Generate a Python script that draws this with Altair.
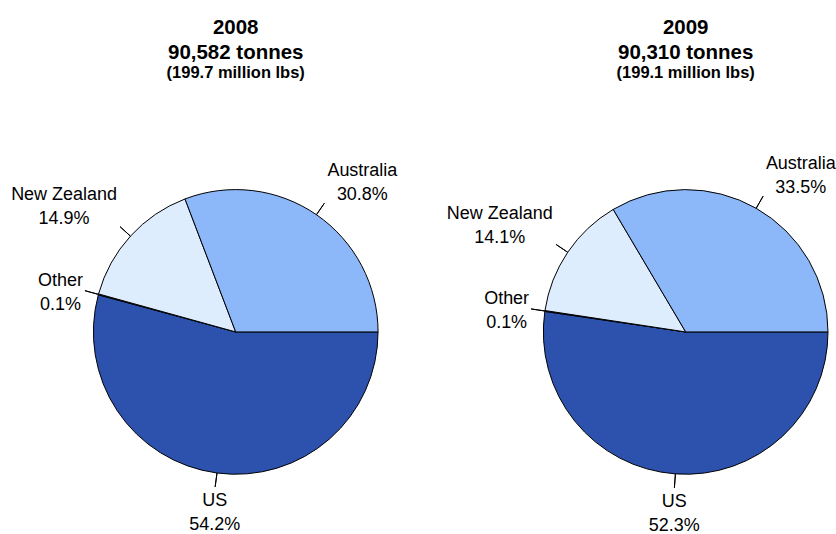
import math

import altair as alt
import pandas as pd

# Import shares by source, listed clockwise starting from 3 o'clock
regions = ["US", "Other", "New Zealand", "Australia"]
share_2008 = [54.2, 0.1, 14.9, 30.8]
share_2009 = [52.3, 0.1, 14.1, 33.5]

years = ["2008", "2009"]
tonnages = ["90,582 tonnes", "90,310 tonnes"]
pounds = ["(199.7 million lbs)", "(199.1 million lbs)"]

slice_colors = ["#2c52ae", "#1f3f8f", "#deedfe", "#8cb7f8"]

FONT = "Liberation Sans"
LABEL_SIZE = 18
LINE_H = 24
RADIUS = 142.5
PANEL_W = 240
PANEL_H = 374

theta_scale = alt.Scale(domain=[0, 100], range=[math.pi / 2, math.pi / 2 + 2 * math.pi])
color_scale = alt.Scale(domain=regions, range=slice_colors)

# screen direction of each slice's middle (Vega angles: 0 = north, clockwise)
ANG = "(PI / 2 + 2 * PI * datum.mid / 100)"
H_SIDE = f"(sin({ANG}) > 0.35 ? 1 : (sin({ANG}) < -0.35 ? -1 : 0))"
V_SIDE = f"(-cos({ANG}) < -0.35 ? -1 : (-cos({ANG}) > 0.35 ? 1 : 0))"


def em_width(field):
    # rough Helvetica/Arial advance width of a string, in em
    return (
        f"(0.556 * length({field})"
        f" - 0.278 * length(replace({field}, regexp('[^iltfrj .,]', 'g'), ''))"
        f" + 0.11 * length(replace({field}, regexp('[^A-Z]', 'g'), ''))"
        f" + 0.166 * length(replace({field}, regexp('[^mwMW]', 'g'), ''))"
        f" + 0.333 * length(replace({field}, regexp('[^%]', 'g'), '')))"
    )


def pie(shares, year, tonnage, lbs):
    df = pd.DataFrame({"region": regions, "share": shares, "order": list(range(len(regions)))})
    base = (
        alt.Chart(df)
        .transform_window(cum="sum(share)", sort=[alt.SortField("order")], frame=[None, 0])
        .transform_calculate(
            start="datum.cum - datum.share",
            mid="datum.cum - datum.share / 2",
            mid2="datum.cum - datum.share / 2 + 0.0001",
            pct="format(datum.share, '.1f') + '%'",
        )
        .transform_calculate(
            label="datum.region + '\\n' + datum.pct",
            block_w=f"{LABEL_SIZE} * max({em_width('datum.region')}, {em_width('datum.pct')})",
        )
    )

    slices = base.mark_arc(outerRadius=RADIUS, stroke="black", strokeWidth=1).encode(
        theta=alt.Theta("start:Q", scale=theta_scale),
        theta2="cum:Q",
        color=alt.Color("region:N", scale=color_scale, legend=None),
    )

    # short radial leader lines drawn as zero-width annular arcs
    leaders = base.mark_arc(
        innerRadius=RADIUS, outerRadius=RADIUS + 14, stroke="black", strokeWidth=1, fillOpacity=0
    ).encode(
        theta=alt.Theta("mid:Q", scale=theta_scale),
        theta2="mid2:Q",
    )

    # two-line labels, lines centred, the block set beside the end of its leader
    labels = base.mark_text(
        radius=RADIUS + 17.5,
        font=FONT,
        fontSize=LABEL_SIZE,
        lineHeight=LINE_H,
        lineBreak="\n",
        color="black",
        align="center",
        baseline="middle",
        dx={"expr": f"{H_SIDE} * datum.block_w / 2"},
        dy={"expr": f"{V_SIDE} * 20 - {LINE_H / 2 - 3}"},
    ).encode(
        theta=alt.Theta("mid:Q", scale=theta_scale),
        text="label:N",
    )

    return alt.layer(slices, leaders, labels).properties(
        width=PANEL_W,
        height=PANEL_H,
        title=alt.Title(
            [year, tonnage],
            subtitle=lbs,
            font=FONT,
            fontSize=20.5,
            fontWeight="bold",
            lineHeight=25,
            color="black",
            subtitleFont=FONT,
            subtitleFontSize=16.5,
            subtitleFontWeight="bold",
            subtitleColor="black",
            subtitlePadding=1,
            anchor="middle",
            offset=64,
        ),
    )


chart = (
    alt.hconcat(
        pie(share_2008, years[0], tonnages[0], pounds[0]),
        pie(share_2009, years[1], tonnages[1], pounds[1]),
        spacing=210.5,
        bounds="flush",
    )
    .properties(
        padding={"left": 11, "top": 18, "right": 0, "bottom": 0},
        background="white",
    )
    .configure_view(stroke=None)
)

chart.save("out.html", embed_options={"renderer": "svg", "actions": False})
